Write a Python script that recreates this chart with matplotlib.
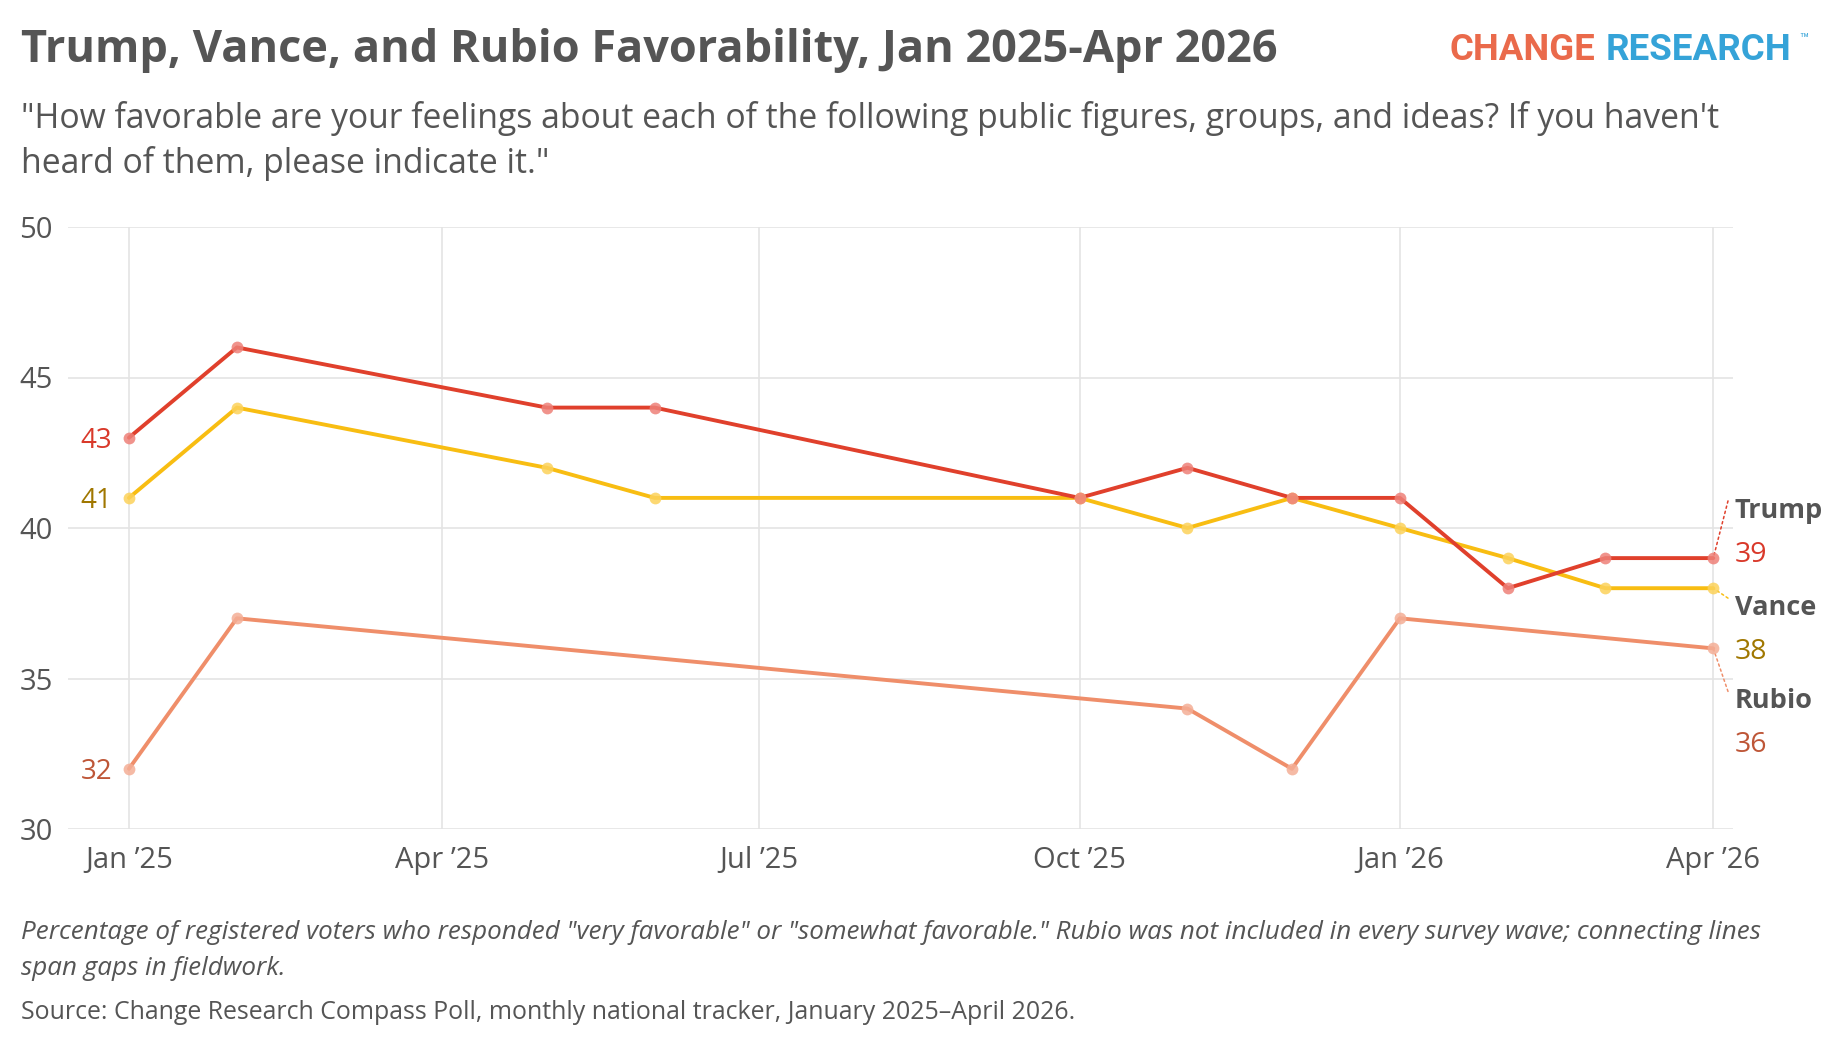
import numpy as np
import matplotlib
matplotlib.use("Agg")
import matplotlib.pyplot as plt
import matplotlib.dates as mdates
from datetime import datetime

# ---- data ----
trump_dates = ["2025-01-01", "2025-02-01", "2025-05-01", "2025-06-01", "2025-10-01",
               "2025-11-01", "2025-12-01", "2026-01-01", "2026-02-01", "2026-03-01", "2026-04-01"]
trump_vals = [43, 46, 44, 44, 41, 42, 41, 41, 38, 39, 39]

vance_dates = trump_dates
vance_vals = [41, 44, 42, 41, 41, 40, 41, 40, 39, 38, 38]

rubio_dates = ["2025-01-01", "2025-02-01", "2025-11-01", "2025-12-01", "2026-01-01", "2026-04-01"]
rubio_vals = [32, 37, 34, 32, 37, 36]

names = ["Trump", "Vance", "Rubio"]
tick_dates = ["2025-01-01", "2025-04-01", "2025-07-01", "2025-10-01", "2026-01-01", "2026-04-01"]
tick_labels = ["Jan \u201925", "Apr \u201925", "Jul \u201925", "Oct \u201925", "Jan \u201926", "Apr \u201926"]
y_ticks = [30, 35, 40, 45, 50]

title = "Trump, Vance, and Rubio Favorability, Jan 2025-Apr 2026"
subtitle = ["\"How favorable are your feelings about each of the following public figures, groups, and ideas? If you haven't",
            "heard of them, please indicate it.\""]
note = ["Percentage of registered voters who responded \"very favorable\" or \"somewhat favorable.\" Rubio was not included in every survey wave; connecting lines",
        "span gaps in fieldwork."]
source = "Source: Change Research Compass Poll, monthly national tracker, January 2025\u2013April 2026."

# ---- styling ----
line_colors = {"Trump": "#E0402C", "Vance": "#F8BD12", "Rubio": "#EF8E6A"}
marker_colors = {"Trump": "#EE8078", "Vance": "#FCD25A", "Rubio": "#F4AE96"}
value_colors = {"Trump": "#D9392A", "Vance": "#A07700", "Rubio": "#BE5637"}
name_y = {"Trump": 40.68, "Vance": 37.45, "Rubio": 34.35}  # right-hand label layout
GREY = "#555555"
FONT = "Open Sans"

series = {
    "Trump": (trump_dates, trump_vals),
    "Vance": (vance_dates, vance_vals),
    "Rubio": (rubio_dates, rubio_vals),
}

def to_dt(lst):
    return [datetime.strptime(d, "%Y-%m-%d") for d in lst]

plt.rcParams["font.family"] = FONT

fig = plt.figure(figsize=(18.4, 10.52), dpi=100)
ax = fig.add_axes([68 / 1840, 1 - 829 / 1052, (1733 - 68) / 1840, (829 - 227) / 1052])

for nm in ["Rubio", "Vance", "Trump"]:
    d, v = series[nm]
    ax.plot(to_dt(d), v, color=line_colors[nm], lw=2.8, zorder=3, solid_capstyle="round")
    ax.plot(to_dt(d), v, ls="none", marker="o", ms=8.5, mfc=marker_colors[nm],
            mec="none", alpha=0.85, zorder=4)

ax.set_xlim(datetime(2024, 12, 14, 12), datetime(2026, 4, 6, 16))
ax.set_ylim(30, 50)
ax.set_yticks(y_ticks)
ax.set_xticks(to_dt(tick_dates))
ax.set_xticklabels(tick_labels)
ax.tick_params(axis="both", length=0, labelsize=21, colors=GREY)
ax.tick_params(axis="x", pad=12)
ax.tick_params(axis="y", pad=11)
ax.grid(True, color="#E4E4E4", lw=1.2)
ax.set_axisbelow(True)
for s in ax.spines.values():
    s.set_visible(False)

# left start values
for nm in names:
    d, v = series[nm]
    ax.annotate(str(v[0]), xy=(to_dt(d)[0], v[0]), xytext=(-12, 0), textcoords="offset points",
                ha="right", va="center_baseline", fontsize=20, color=value_colors[nm])

# right end labels with dotted leaders
ytr = ax.get_yaxis_transform()
for nm in names:
    d, v = series[nm]
    ax.text(1.001, name_y[nm], nm, transform=ytr, ha="left", va="center_baseline",
            fontsize=19.5, fontweight="bold", color=GREY)
    ax.text(1.001, name_y[nm] - 1.45, str(v[-1]), transform=ytr, ha="left", va="center_baseline",
            fontsize=20.5, color=value_colors[nm])
    ax.annotate("", xy=(to_dt(d)[-1], v[-1]), xycoords="data",
                xytext=(0.997, name_y[nm] + 0.22), textcoords=ytr,
                arrowprops=dict(arrowstyle="-", color=line_colors[nm], lw=1.1,
                                ls=(0, (1.5, 2)), shrinkA=0, shrinkB=0))

# titles
fig.text(21 / 1840, 1 - 62 / 1052, title, fontsize=32.5, fontweight="bold", color=GREY, va="baseline")
fig.text(21 / 1840, 1 - 128 / 1052, subtitle[0], fontsize=24.3, color=GREY, va="baseline")
fig.text(21 / 1840, 1 - 173 / 1052, subtitle[1], fontsize=24.3, color=GREY, va="baseline")

# logo
fig.text(1450 / 1840, 1 - 60 / 1052, "CHANGE", fontsize=26.3, fontweight="bold", color="#EA6A4B",
         va="baseline", family="Roboto")
fig.text(1606 / 1840, 1 - 60 / 1052, "RESEARCH", fontsize=26.5, fontweight="bold", color="#35A3D8",
         va="baseline", family="Roboto")
fig.text(1799 / 1840, 1 - 44 / 1052, "\u2122", fontsize=11, color="#35A3D8", va="baseline", family="Roboto")

# footnotes
fig.text(21 / 1840, 1 - 939 / 1052, note[0], fontsize=18.75, style="italic", color=GREY, va="baseline")
fig.text(21 / 1840, 1 - 975 / 1052, note[1], fontsize=18.75, style="italic", color=GREY, va="baseline")
fig.text(21 / 1840, 1 - 1019 / 1052, source, fontsize=17.9, color=GREY, va="baseline")

fig.savefig("out.png", dpi=100, facecolor="white")
